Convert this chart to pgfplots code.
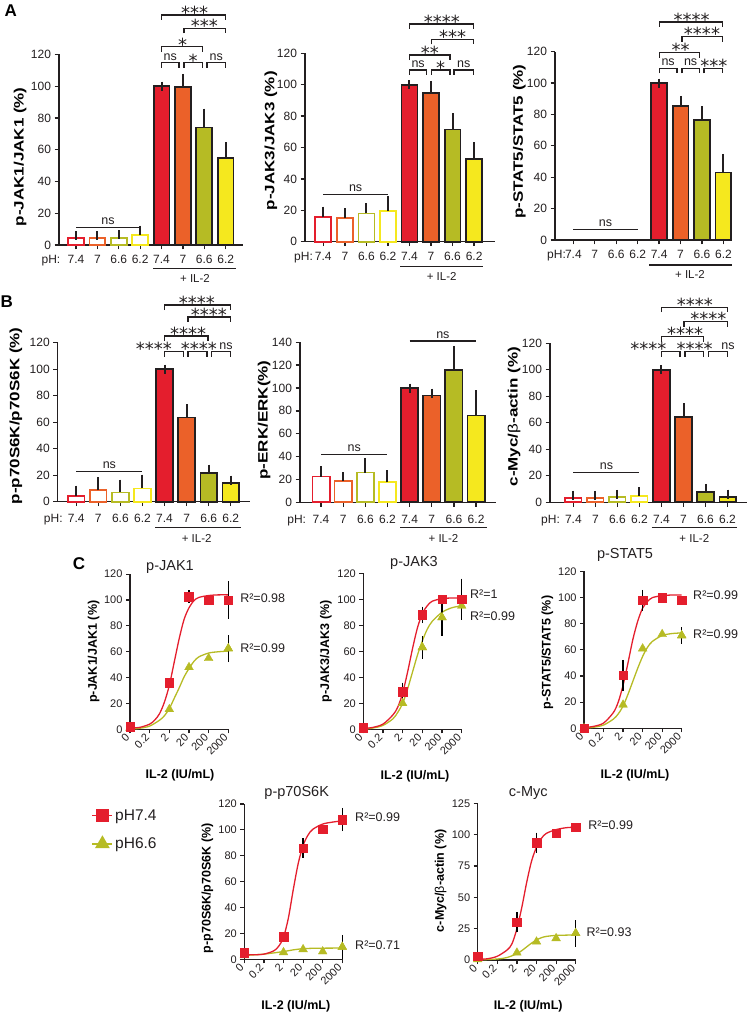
\documentclass[border=0pt]{standalone}
\usepackage{pgfplots}
\pgfplotsset{compat=1.18}
\usepackage{fontspec}
\setmainfont{Liberation Sans}
\newfontfamily\djv{DejaVu Sans}
\usepackage{graphicx}
\definecolor{cR}{RGB}{228,30,45}
\definecolor{cO}{RGB}{235,97,41}
\definecolor{cG}{RGB}{182,187,36}
\definecolor{cY}{RGB}{245,232,30}
\definecolor{ax}{RGB}{35,31,32}
\newcommand{\fs}[1]{\fontsize{#1bp}{#1bp}\selectfont}
\newcommand{\ns}{{\fs{12.5}ns}}
\newcommand{\st}[1]{\raisebox{-6.8bp}{\djv\fs{18}#1}}
\newcommand{\sA}{\st{*}}
\newcommand{\sB}{\st{**}}
\newcommand{\sC}{\st{***}}
\newcommand{\sD}{\st{****}}
\newcommand{\brk}[5]{%
  \draw[ax, line width=1.4bp] ([yshift=-5bp]axis cs:#1,#3) -- (axis cs:#1,#3) -- (axis cs:#2,#3) -- ([yshift=-5bp]axis cs:#2,#3);
  \node[anchor=base, inner sep=0pt, text=ax] at ([yshift=2.5bp]axis cs:#4,#3) {#5};}
\newcommand{\lns}[4]{%
  \draw[ax, line width=1.4bp] (axis cs:#1,#3) -- (axis cs:#2,#3);
  \node[anchor=base, inner sep=0pt, text=ax] at ([yshift=3bp]axis cs:#4,#3) {\ns};}
\def\bw{0.7}
\pgfplotsset{
  base/.style={scale only axis, anchor=south west, axis lines=left,
    axis line style={-, draw=ax, line width=1.5bp},
    tick style={draw=ax, line width=1.3bp}, tick align=outside, major tick length=4.5bp,
    clip=false, /pgf/number format/assume math mode=true, tick label style={text=ax}},
  barax/.style={base, ymin=0, xtick={0,...,7}, xticklabels={7.4,7,6.6,6.2,7.4,7,6.6,6.2},
    tick label style={font=\fs{12}}, xticklabel style={anchor=base, yshift=-14bp},
    ylabel style={font=\bfseries\fs{17}, anchor=center}},
  fbar/.style={ybar, bar width=\bw, bar shift=0pt, draw=ax, line width=1.8bp,
    error bars/y dir=plus, error bars/y explicit,
    error bars/error bar style={draw=ax, line width=2bp},
    error bars/error mark options={draw=ax, line width=2bp, mark size=4.5bp}},
  obar/.style={ybar, bar width=\bw, bar shift=0pt, fill=white, line width=1.7bp,
    error bars/y dir=plus, error bars/y explicit,
    error bars/error bar style={draw=ax, line width=2bp},
    error bars/error mark options={draw=ax, line width=2bp, mark size=4.5bp}},
  cax/.style={base, axis line style={line width=1.3bp}, tick style={line width=1.2bp},
    major tick length=4bp, xmin=0, xmax=5, ymin=0, xtick={0,...,5},
    xticklabels={0,0.2,2,20,200,2000}, tick label style={font=\fs{11}},
    xticklabel style={rotate=45, anchor=east},
    ylabel style={font=\bfseries\fs{12.5}, anchor=center},
    xlabel style={font=\bfseries\fs{12.5}, anchor=center}},
  rcur/.style={cR, line width=1.3bp, smooth, no marks},
  gcur/.style={cG, line width=1.3bp, smooth, no marks},
  rpt/.style={only marks, mark=square*, mark size=4.3bp, mark options={draw=cR, fill=cR}},
  gpt/.style={only marks, mark=triangle*, mark size=5bp, mark options={draw=cG, fill=cG}},
  eb/.style={error bars/y dir=both, error bars/y explicit,
    error bars/error bar style={draw=black, line width=1.5bp},
    error bars/error mark options={draw=black, line width=1.5bp, mark size=3.8bp}},
}
\newcommand{\fb}[4]{\addplot[fill=#1, fbar] coordinates {(#2,#3) +- (0,#4)};}
\newcommand{\ob}[4]{\addplot[draw=#1, obar] coordinates {(#2,#3) +- (0,#4)};}
\newcommand{\rr}[3]{\node[anchor=west, font=\fs{12.5}, text=ax, inner sep=0pt] at (axis cs:#1,#2) {#3};}
\begin{document}
\begin{tikzpicture}[x=1bp,y=1bp]
\useasboundingbox (0,0) rectangle (748,1013);
% ---------------- A1
\def\bw{0.74}
\begin{axis}[barax, at={(59bp,768bp)}, width=184bp, height=190.5bp, xmin=-0.795, xmax=7.81,
  ymax=120, ytick={0,20,...,120},
  ylabel={\scalebox{1}[0.8]{p-JAK1/JAK1 (\%)}}, ylabel style={at={(axis description cs:-0.212,0.463)}}]
\ob{cR}{0}{4.2}{1.7}
\ob{cO}{1}{4.4}{1.5}
\ob{cG}{2}{4.6}{1.7}
\ob{cY}{3}{6.5}{2.9}
\fb{cR}{4}{100}{0}
\fb{cO}{5}{99.5}{5.5}
\fb{cG}{6}{74}{9}
\fb{cY}{7}{55}{7}
\lns{0}{3}{10.9}{1.5}
\brk{4}{4.82}{114.8}{4.41}{\ns}
\brk{5.05}{5.92}{114.8}{5.48}{\sA}
\brk{6.12}{7}{114.8}{6.56}{\ns}
\brk{4}{5.92}{124.9}{4.99}{\sA}
\brk{5.05}{7}{136.5}{6.0}{\sC}
\brk{4}{7}{144.9}{5.55}{\sC}
\end{axis}
% ---------------- A2
\begin{axis}[barax, at={(305bp,771.3bp)}, width=190bp, height=188.4bp, xmin=-0.85, xmax=7.97,
  ymax=120, ytick={0,20,...,120},
  ylabel={\scalebox{1}[0.8]{p-JAK3/JAK3 (\%)}}, ylabel style={at={(axis description cs:-0.18,0.536)}}]
\ob{cR}{0}{15.5}{4}
\ob{cO}{1}{15}{3.5}
\ob{cG}{2}{18}{3.5}
\ob{cY}{3}{19.5}{6.5}
\fb{cR}{4}{100}{0}
\fb{cO}{5}{94.5}{5}
\fb{cG}{6}{71.5}{7.5}
\fb{cY}{7}{52.5}{8}
\lns{0}{3}{30.2}{1.5}
\brk{4}{4.8}{109.4}{4.4}{\ns}
\brk{5.03}{5.88}{109.4}{5.45}{\sA}
\brk{6.07}{6.97}{109.4}{6.52}{\ns}
\brk{4}{5.88}{118.9}{4.95}{\sB}
\brk{5.03}{6.97}{128.9}{6.0}{\sC}
\brk{4}{6.97}{138.7}{5.5}{\sD}
\end{axis}
% ---------------- A3
\begin{axis}[barax, at={(555bp,773bp)}, width=177bp, height=188.3bp, xmin=-0.855, xmax=7.4,
  ymax=120, ytick={0,20,...,120},
  ylabel={\scalebox{1}[0.8]{p-STAT5/STAT5 (\%)}}, ylabel style={at={(axis description cs:-0.202,0.522)}}]
\fb{cR}{4}{100}{0}
\fb{cO}{5}{85.5}{3.5}
\fb{cG}{6}{76.5}{6}
\fb{cY}{7}{43}{9}
\lns{0}{3}{6.8}{1.5}
\brk{4.01}{4.83}{109.4}{4.42}{\ns}
\brk{5.06}{5.88}{109.4}{5.47}{\ns}
\brk{6.1}{6.97}{109.4}{6.55}{\sC}
\brk{4.01}{5.88}{119.4}{5.0}{\sB}
\brk{5.06}{6.97}{129.6}{6.0}{\sD}
\brk{4.01}{6.97}{139}{5.52}{\sD}
\end{axis}
% ---------------- B1
\def\bw{0.75}
\begin{axis}[barax, at={(57.7bp,511.3bp)}, width=192.3bp, height=159bp, xmin=-0.84, xmax=7.87,
  ymax=120, ytick={0,20,...,120}, xticklabel style={yshift=-2.5bp},
  ylabel={\scalebox{1}[0.8]{p-p70S6K/p70S6K (\%)}}, ylabel style={at={(axis description cs:-0.218,0.54)}}]
\ob{cR}{0}{4.5}{4.3}
\ob{cO}{1}{8.8}{6.2}
\ob{cG}{2}{7}{6.3}
\ob{cY}{3}{10}{7}
\fb{cR}{4}{100}{0}
\fb{cO}{5}{63.5}{6.8}
\fb{cG}{6}{21.4}{3.2}
\fb{cY}{7}{14.3}{2}
\lns{0}{3}{22.6}{1.5}
\brk{4}{4.85}{113.2}{3.52}{\sD}
\brk{5.06}{5.92}{113.2}{5.55}{\sD}
\brk{6.12}{7}{113.2}{6.78}{\ns}
\brk{4}{5.96}{125}{5.07}{\sD}
\brk{5.07}{7}{139.5}{6.01}{\sD}
\brk{4}{7}{148.4}{5.46}{\sD}
\end{axis}
% ---------------- B2
\def\bw{0.78}
\begin{axis}[barax, at={(300bp,510.7bp)}, width=196bp, height=160bp, xmin=-0.95, xmax=7.9,
  ymax=140, ytick={0,20,...,140}, xticklabel style={yshift=-2.5bp},
  ylabel={\scalebox{1}[0.8]{p-ERK/ERK(\%)}}, ylabel style={at={(axis description cs:-0.183,0.514)}}]
\ob{cR}{0}{22.5}{5}
\ob{cO}{1}{18.5}{4}
\ob{cG}{2}{26}{8.5}
\ob{cY}{3}{17.5}{6.5}
\fb{cR}{4}{100}{0}
\fb{cO}{5}{93.5}{2}
\fb{cG}{6}{116}{17}
\fb{cY}{7}{76}{18}
\lns{0}{3}{41.7}{1.5}
\lns{4}{7}{141.1}{5.5}
\end{axis}
% ---------------- B3
\def\bw{0.74}
\begin{axis}[barax, at={(550bp,510.7bp)}, width=196.7bp, height=159bp, xmin=-1.06, xmax=7.87,
  ymax=120, ytick={0,20,...,120}, xticklabel style={yshift=-2.5bp},
  ylabel={\scalebox{1}[0.8]{c-Myc/{\mdseries β}-actin (\%)}}, ylabel style={at={(axis description cs:-0.182,0.538)}}]
\ob{cR}{0}{3.5}{2}
\ob{cO}{1}{3.5}{1.8}
\ob{cG}{2}{3.8}{2.2}
\ob{cY}{3}{4.8}{3.2}
\fb{cR}{4}{100}{0}
\fb{cO}{5}{64.5}{7}
\fb{cG}{6}{8}{2.5}
\fb{cY}{7}{4.2}{2}
\lns{0}{3}{22.4}{1.5}
\brk{4.01}{4.84}{113.7}{3.4}{\sD}
\brk{5.07}{5.9}{113.7}{5.51}{\sD}
\brk{6.13}{7}{113.7}{7.02}{\ns}
\brk{4.01}{5.9}{125}{5.07}{\sD}
\brk{5.02}{7}{136.3}{6.13}{\sD}
\brk{4.01}{7}{147.2}{5.52}{\sD}
\end{axis}
% ---------------- C1
\begin{axis}[cax, at={(130bp,283.7bp)}, width=98.3bp, height=155.1bp, ymax=120, ytick={0,20,...,120},
  xlabel={IL-2 (IU/mL)}, xlabel style={at={(axis description cs:0.509,-0.295)}},
  ylabel={p-JAK1/JAK1 (\%)}, ylabel style={at={(axis description cs:-0.369,0.5)}}]
\addplot[gcur] coordinates {(0,0)(0.5,0.8)(1,2.5)(1.5,7)(1.75,10.5)(2,16)(2.25,24)(2.5,32)(2.75,40.5)(3,47)(3.25,52.5)(3.5,56)(4,59)(4.5,60)(5,60.5)};
\addplot[rcur] coordinates {(0,1)(0.5,1.5)(1,4)(1.25,7)(1.5,12)(1.75,21)(2,34)(2.25,52)(2.5,70)(2.75,85)(3,94)(3.25,99.5)(3.5,102)(4,103.5)(4.5,104)(5,104)};
\addplot[gpt] coordinates {(0,1)(2,15.5)(3,48)(4,55)(5,62.5)};
\addplot[gpt, eb] coordinates {(5,62.5) +- (0,7.5)};
\addplot[rpt] coordinates {(0,2)(2,36)(3,102.5)(4,100)(5,100)};
\addplot[rpt, eb] coordinates {(3,102.5) +- (0,2) (5,100) +- (0,11.5)};
\rr{5.6}{101.5}{R²=0.98}
\rr{5.6}{62.9}{R²=0.99}
\end{axis}
% ---------------- C2
\begin{axis}[cax, at={(363.3bp,283.7bp)}, width=98.4bp, height=156bp, ymax=120, ytick={0,20,...,120},
  xlabel={IL-2 (IU/mL)}, xlabel style={at={(axis description cs:0.525,-0.304)}},
  ylabel={p-JAK3/JAK3 (\%)}, ylabel style={at={(axis description cs:-0.381,0.5)}}]
\addplot[gcur] coordinates {(0,0)(0.5,1)(1,3)(1.5,8)(1.75,13)(2,20)(2.25,31)(2.5,44)(2.75,57)(3,68)(3.25,77)(3.5,83)(4,90)(4.5,93.5)(5,95)};
\addplot[rcur] coordinates {(0,0.5)(0.5,1.5)(1,4)(1.5,11)(1.75,17)(2,28)(2.25,44)(2.5,62)(2.75,78)(3,89)(3.25,95)(3.5,98.5)(4,100.5)(4.5,101)(5,101)};
\addplot[gpt] coordinates {(0,0)(2,20)(3,63)(4,86)(5,95)};
\addplot[gpt, eb] coordinates {(3,63) +- (0,6) (4,86) +- (0,11)};
\addplot[rpt] coordinates {(0,1)(2,29)(3,88)(4,100)(5,100)};
\addplot[rpt, eb] coordinates {(2,29) +- (0,4) (3,88) +- (0,3.5) (5,100) +- (0,13)};
\rr{5.42}{104}{R²=1}
\rr{5.42}{87.2}{R²=0.99}
\end{axis}
% ---------------- C3
\begin{axis}[cax, at={(584bp,284.7bp)}, width=97.7bp, height=156.8bp, ymax=120, ytick={0,20,...,120},
  xlabel={IL-2 (IU/mL)}, xlabel style={at={(axis description cs:0.522,-0.298)}},
  ylabel={p-STAT5/STAT5 (\%)}, ylabel style={at={(axis description cs:-0.374,0.483)}}]
\addplot[gcur] coordinates {(0,0)(0.5,0.8)(1,2.5)(1.5,7)(1.75,11)(2,17)(2.25,26)(2.5,36)(2.75,46)(3,55)(3.25,62)(3.5,66.5)(4,71)(4.5,72.5)(5,73)};
\addplot[rcur] coordinates {(0,0.5)(0.5,1.5)(1,4)(1.5,12)(1.75,20)(2,33)(2.25,50)(2.5,68)(2.75,82)(3,92)(3.25,97)(3.5,100)(4,101.5)(4.5,102)(5,102)};
\addplot[gpt] coordinates {(0,0)(2,18)(3,61)(4,72)(5,71)};
\addplot[gpt, eb] coordinates {(5,71) +- (0,3.5)};
\addplot[rpt] coordinates {(0,0)(2,40.5)(3,98)(4,100)(5,98)};
\addplot[rpt, eb] coordinates {(2,40.5) +- (0,9) (3,98) +- (0,5)};
\rr{5.58}{102}{R²=0.99}
\rr{5.58}{72}{R²=0.99}
\end{axis}
% ---------------- C4
\begin{axis}[cax, at={(244.3bp,53.7bp)}, width=98bp, height=155.3bp, ymax=120, ytick={0,20,...,120},
  xlabel={IL-2 (IU/mL)}, xlabel style={at={(axis description cs:0.526,-0.3)}},
  ylabel={p-p70S6K/p70S6K (\%)}, ylabel style={at={(axis description cs:-0.376,0.457)}},
  legend style={at={(axis description cs:-1.56,0.978)}, anchor=north west, draw=none, fill=none,
    font=\fs{15.5}, row sep=12bp, inner sep=0pt, nodes={text=ax}},
  legend cell align=left,
  legend image code/.code={\draw[mark repeat=2,mark phase=2,#1] plot coordinates {(0bp,0bp)(10bp,0bp)(20bp,0bp)};}]
\addlegendimage{cR, line width=1.6bp, mark=square*, mark size=5.5bp, mark options={fill=cR}}
\addlegendentry{pH7.4}
\addlegendimage{cG, line width=1.6bp, mark=triangle*, mark size=7bp, mark options={fill=cG}}
\addlegendentry{pH6.6}
\addplot[gcur, forget plot] coordinates {(0,3)(1,4)(2,6)(2.5,7.3)(3,8.2)(3.5,8.5)(4,8.6)(5,8.7)};
\addplot[rcur, forget plot] coordinates {(0,3.5)(0.5,3.5)(1,4)(1.5,6.5)(1.75,10)(2,17)(2.25,32)(2.5,54)(2.75,74)(3,88)(3.25,96)(3.5,100.5)(4,104.5)(4.5,106)(5,107)};
\addplot[gpt, forget plot] coordinates {(0,3)(2,5.4)(3,7.7)(4,6)(5,9.5)};
\addplot[gpt, eb, forget plot] coordinates {(5,9.5) +- (0,6.5)};
\addplot[rpt, forget plot] coordinates {(0,5)(2,17.5)(3,86)(4,100.5)(5,108)};
\addplot[rpt, eb, forget plot] coordinates {(3,86) +- (0,4.5) (5,108) +- (0,6)};
\rr{5.65}{109.7}{R²=0.99}
\rr{5.65}{11}{R²=0.71}
\end{axis}
% ---------------- C5
\begin{axis}[cax, at={(477.7bp,53bp)}, width=98bp, height=156.7bp, ymax=125, ytick={0,25,...,125},
  xlabel={IL-2 (IU/mL)}, xlabel style={at={(axis description cs:0.516,-0.294)}},
  ylabel={c-Myc/{\mdseries β}-actin (\%)}, ylabel style={at={(axis description cs:-0.377,0.505)}}]
\addplot[gcur] coordinates {(0,0)(1,0.8)(1.5,2)(2,5)(2.25,7.5)(2.5,10.5)(2.75,13.5)(3,16)(3.25,17.8)(3.5,18.8)(4,19.6)(5,20)};
\addplot[rcur] coordinates {(0,0.5)(0.5,1)(1,3)(1.5,8)(1.75,13)(2,25)(2.25,42)(2.5,62)(2.75,79)(3,90)(3.25,97)(3.5,101)(4,104)(4.5,105.5)(5,106)};
\addplot[gpt] coordinates {(0,0.5)(2,5.8)(3,14.6)(4,17.3)(5,21.3)};
\addplot[gpt, eb] coordinates {(5,21.3) +- (0,7.5)};
\addplot[rpt] coordinates {(0,3)(2,30)(3,93.6)(4,101)(5,106)};
\addplot[rpt, eb] coordinates {(2,30) +- (0,5) (3,93.6) +- (0,5)};
\rr{5.63}{107.7}{R²=0.99}
\rr{5.55}{21.8}{R²=0.93}
\end{axis}
% ---------------- absolute annotations
\begin{scope}[ax, line width=1.3bp]
\draw (153.3,744.7) -- (235.7,744.7);
\draw (400,746.3) -- (483.3,746.3);
\draw (649.3,748) -- (732.3,748);
\draw (155,485.3) -- (240.7,485.3);
\draw (400,485.3) -- (487,485.3);
\draw (651.7,485.3) -- (737.3,485.3);
\end{scope}
\begin{scope}[every node/.style={text=ax, font=\fs{11.5}, inner sep=0pt}]
\node at (195,734.5) {+ IL-2};
\node at (441.7,737) {+ IL-2};
\node at (690,739) {+ IL-2};
\node at (196.7,474.7) {+ IL-2};
\node at (443.5,474.7) {+ IL-2};
\node at (694.3,475) {+ IL-2};
\end{scope}
\begin{scope}[every node/.style={text=ax, font=\fs{12}, inner sep=0pt, anchor=base}]
\node at (51,749.5) {pH:};
\node at (303.5,752.8) {pH:};
\node at (556.5,754.5) {pH:};
\node at (53.3,490.3) {pH:};
\node at (296.7,489.7) {pH:};
\node at (550.5,489.7) {pH:};
\end{scope}
\begin{scope}[every node/.style={text=ax, font=\fs{14.5}, inner sep=0pt}]
\node at (170,446) {p-JAK1};
\node at (414,450) {p-JAK3};
\node at (625,458) {p-STAT5};
\node at (296.7,220) {p-p70S6K};
\node at (528.3,220) {c-Myc};
\end{scope}
\begin{scope}[every node/.style={text=black, font=\bfseries\fs{17}, inner sep=0pt}]
\node at (10.8,1002.2) {A};
\node at (6.7,711.3) {B};
\node at (79,449.7) {C};
\end{scope}
\end{tikzpicture}
\end{document}
